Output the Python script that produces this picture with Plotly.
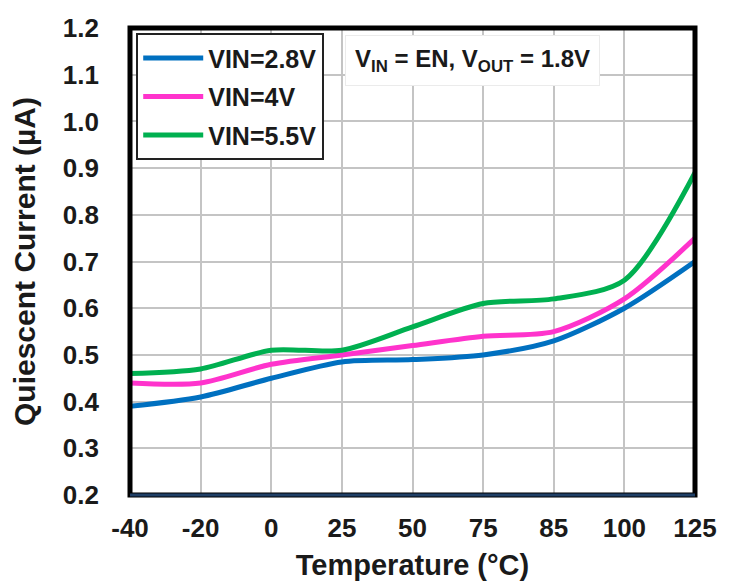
import plotly.graph_objects as go

temps = ["-40", "-20", "0", "25", "50", "75", "85", "100", "125"]
vin_28 = [0.39, 0.41, 0.45, 0.485, 0.49, 0.50, 0.53, 0.60, 0.70]
vin_4 = [0.44, 0.44, 0.48, 0.50, 0.52, 0.54, 0.55, 0.62, 0.75]
vin_55 = [0.46, 0.47, 0.51, 0.51, 0.56, 0.61, 0.62, 0.66, 0.89]
series_names = ["VIN=2.8V", "VIN=4V", "VIN=5.5V"]
series_colors = ["#0070C0", "#FF33CC", "#00B050"]
y_ticks = [0.2, 0.3, 0.4, 0.5, 0.6, 0.7, 0.8, 0.9, 1.0, 1.1, 1.2]

FONT = "Liberation Sans, Arial, sans-serif"
TXT = "#1a1a1a"

fig = go.Figure()
for i, (name, vals, col) in enumerate(zip(series_names, [vin_28, vin_4, vin_55], series_colors)):
    fig.add_trace(go.Scatter(
        x=temps, y=vals, name=name, mode="lines",
        line=dict(color=col, width=5, shape="spline", smoothing=0.8),
        legendgroup=f"g{i}",
    ))

fig.update_layout(
    width=718, height=573,
    margin=dict(l=122, r=31, t=20, b=86),
    paper_bgcolor="white", plot_bgcolor="white",
    font=dict(family=FONT, color=TXT),
    showlegend=True,
    legend=dict(
        x=0.011, y=0.989, xanchor="left", yanchor="top",
        bgcolor="white", bordercolor="#222222", borderwidth=2,
        font=dict(family=FONT, size=25, color=TXT, weight="bold"),
        tracegroupgap=3, traceorder="grouped", itemwidth=60,
    ),
    xaxis=dict(
        type="category", categoryorder="array", categoryarray=temps,
        range=[0, 8],
        showgrid=True, gridcolor="#C4C4C4", gridwidth=2,
        tickfont=dict(family=FONT, size=26, color=TXT, weight="bold"),
        ticks="", ticklabelstandoff=15,
        title=dict(text="Temperature (°C)", font=dict(family=FONT, size=29, color=TXT, weight="bold"), standoff=14),
        zeroline=False, showline=False, automargin=False,
    ),
    yaxis=dict(
        range=[0.2, 1.2], tickvals=y_ticks, tickformat=".1f",
        showgrid=True, gridcolor="#C4C4C4", gridwidth=2,
        tickfont=dict(family=FONT, size=26, color=TXT, weight="bold"),
        ticks="", ticklabelstandoff=30,
        title=dict(text="Quiescent Current (µA)", font=dict(family=FONT, size=30, color=TXT, weight="bold"), standoff=18),
        zeroline=False, showline=False, automargin=False,
    ),
    shapes=[
        dict(type="rect", xref="x domain", yref="y domain", x0=0, x1=1, y0=0, y1=1,
             line=dict(color="#000000", width=5), layer="above"),
        dict(type="line", xref="x domain", yref="y domain", x0=0, x1=1, y0=0, y1=0,
             line=dict(color="#1F3F66", width=3), layer="above"),
    ],
    annotations=[
        dict(text="V<sub>IN</sub> = EN, V<sub>OUT</sub> = 1.8V",
             xref="x domain", yref="y domain", x=0.607, y=0.931,
             xanchor="center", yanchor="middle", showarrow=False,
             font=dict(family=FONT, size=24, color=TXT, weight="bold"),
             bgcolor="white", bordercolor="#EBEBEB", borderwidth=1, borderpad=9),
    ],
)

fig.write_html("out.html")
